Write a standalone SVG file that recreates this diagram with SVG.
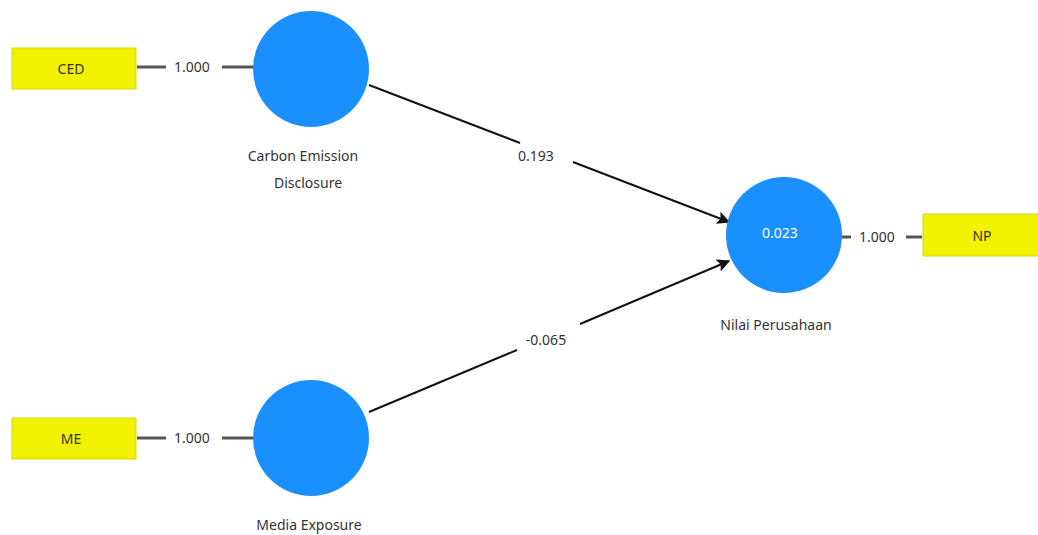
<svg xmlns="http://www.w3.org/2000/svg" width="1038" height="535" viewBox="0 0 1038 535">
<defs>
<marker id="arr" viewBox="0 0 10 10" refX="9" refY="5" markerWidth="6.5" markerHeight="6.5" orient="auto" markerUnits="strokeWidth">
<path d="M0,0 L10,5 L0,10 L2,5 z" fill="#111"/>
</marker>
</defs>
<style>
.ind{fill:#f2f200;stroke:#d8d800;stroke-width:1}
.lv{fill:#1a90ff}
.t{font-family:"Noto Sans","DejaVu Sans",sans-serif;font-size:14px;fill:#333;text-anchor:middle}
.w{fill:#fff}
.load{stroke:#555;stroke-width:3;fill:none}
.path{stroke:#111;stroke-width:2;fill:none}
</style>
<rect width="1038" height="535" fill="#fff"/>
<g id="connectors">
<line class="load" x1="137" y1="67" x2="166" y2="67"/>
<line class="load" x1="222" y1="67" x2="254" y2="67"/>
<text class="t" x="192" y="72">1.000</text>
<line class="load" x1="137" y1="438" x2="166" y2="438"/>
<line class="load" x1="222" y1="438" x2="254" y2="438"/>
<text class="t" x="192" y="443">1.000</text>
<line class="load" x1="842" y1="237" x2="851" y2="237"/>
<line class="load" x1="906" y1="237" x2="922" y2="237"/>
<text class="t" x="877" y="242">1.000</text>
<line class="path" x1="369" y1="85" x2="520" y2="143"/>
<line class="path" x1="573" y1="162" x2="729" y2="222" marker-end="url(#arr)"/>
<text class="t" x="536" y="161">0.193</text>
<line class="path" x1="369" y1="412" x2="517" y2="350"/>
<line class="path" x1="580" y1="324" x2="729" y2="261" marker-end="url(#arr)"/>
<text class="t" x="546" y="345">-0.065</text>
</g>
<g id="CED">
<rect class="ind" x="12" y="48" width="124" height="41"/>
<text class="t" x="71" y="74">CED</text>
</g>
<g id="ME">
<rect class="ind" x="12" y="418" width="124" height="41"/>
<text class="t" x="71" y="444">ME</text>
</g>
<g id="NP">
<rect class="ind" x="923" y="214" width="120" height="42"/>
<text class="t" x="982" y="241">NP</text>
</g>
<g id="CarbonEmissionDisclosure">
<circle class="lv" cx="311" cy="69" r="58"/>
<text class="t" x="303" y="161">Carbon Emission</text>
<text class="t" x="308" y="188">Disclosure</text>
</g>
<g id="MediaExposure">
<circle class="lv" cx="311" cy="438" r="58"/>
<text class="t" x="309" y="530">Media Exposure</text>
</g>
<g id="NilaiPerusahaan">
<circle class="lv" cx="784" cy="235" r="58"/>
<text class="t w" x="780" y="238">0.023</text>
<text class="t" x="776" y="330">Nilai Perusahaan</text>
</g>
</svg>
